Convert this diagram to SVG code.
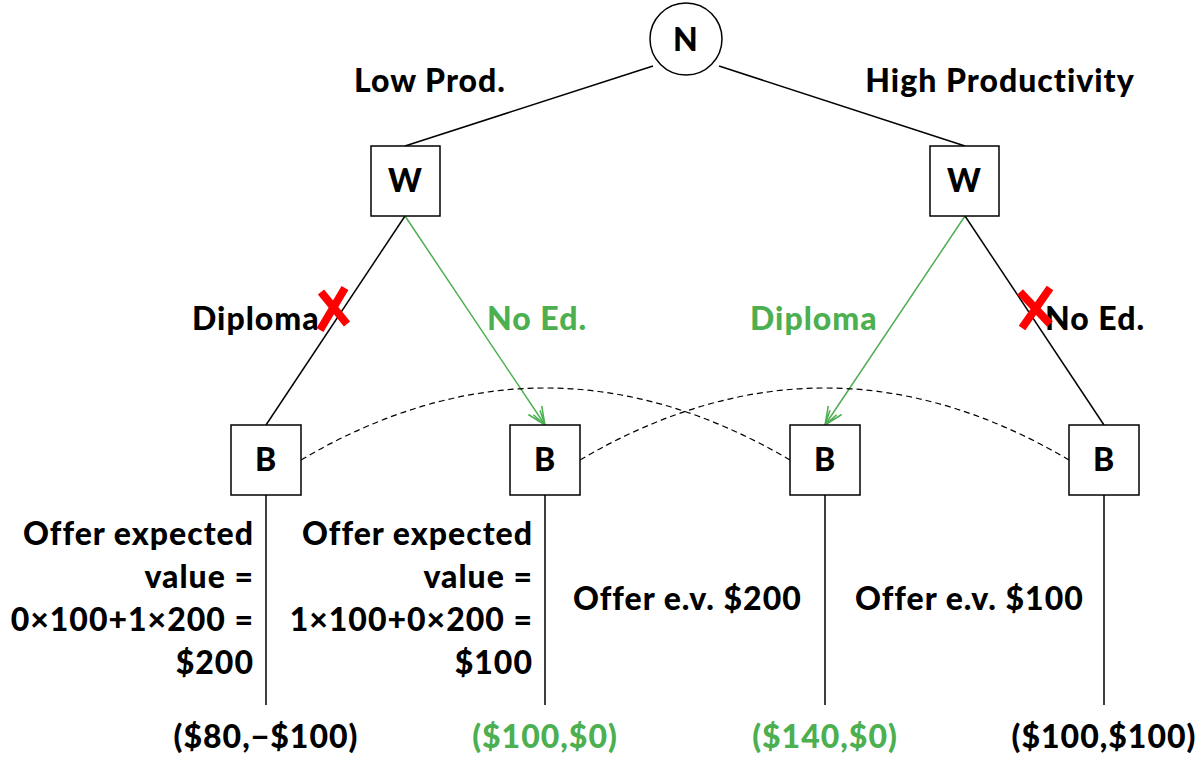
<svg xmlns="http://www.w3.org/2000/svg" width="1202" height="757" viewBox="0 0 1202 757">
<style>
text{font-family:Lato,"Open Sans","DejaVu Sans",sans-serif;font-weight:900;font-size:32px;letter-spacing:1px;fill:#000}
.g{fill:#4caf50}
.r{text-anchor:end}
.m{text-anchor:middle}
.node{fill:#fff;stroke:#000;stroke-width:1.5}
.edge{stroke:#000;stroke-width:1.5;fill:none}
.gedge{stroke:#4caf50;stroke-width:1.5;fill:none}
.dash{stroke:#000;stroke-width:1.2;fill:none;stroke-dasharray:6 4}
.x{stroke:#f00;stroke-width:8;stroke-linecap:butt;fill:none}
</style>
<defs>
<marker id="ga" viewBox="0 0 20 20" refX="18" refY="10" markerWidth="20" markerHeight="20" markerUnits="userSpaceOnUse" orient="auto">
<path d="M0,2 L18,10 L0,18 M3,6 L18,10 L3,14" fill="none" stroke="#4caf50" stroke-width="1.5"/>
</marker>
</defs>
<g id="connectors">
<line class="edge" x1="653" y1="66" x2="405" y2="146"/>
<line class="edge" x1="719" y1="66" x2="965" y2="146"/>
<line class="edge" x1="405" y1="216" x2="266" y2="425"/>
<line class="gedge" x1="405" y1="216" x2="545" y2="425" marker-end="url(#ga)"/>
<line class="gedge" x1="965" y1="216" x2="825" y2="425" marker-end="url(#ga)"/>
<line class="edge" x1="965" y1="216" x2="1104" y2="425"/>
<line class="edge" x1="266" y1="495" x2="266" y2="705"/>
<line class="edge" x1="545" y1="495" x2="545" y2="705"/>
<line class="edge" x1="825" y1="495" x2="825" y2="705"/>
<line class="edge" x1="1104" y1="495" x2="1104" y2="705"/>
<path class="dash" d="M301,460 Q545,316 790,460"/>
<path class="dash" d="M580,460 Q825,316 1069,460"/>
</g>
<g id="N"><circle class="node" cx="686" cy="39" r="36"/><text class="m" x="686" y="51">N</text></g>
<g id="W1"><rect class="node" x="371" y="146" width="69" height="70"/><text class="m" x="405.5" y="192">W</text></g>
<g id="W2"><rect class="node" x="930" y="146" width="69" height="70"/><text class="m" x="964.5" y="192">W</text></g>
<g id="B1"><rect class="node" x="231" y="425" width="70" height="70"/><text class="m" x="266" y="471">B</text></g>
<g id="B2"><rect class="node" x="510" y="425" width="70" height="70"/><text class="m" x="545" y="471">B</text></g>
<g id="B3"><rect class="node" x="790" y="425" width="70" height="70"/><text class="m" x="825" y="471">B</text></g>
<g id="B4"><rect class="node" x="1069" y="425" width="70" height="70"/><text class="m" x="1104" y="471">B</text></g>
<g id="labels">
<text class="m" x="430" y="92">Low Prod.</text>
<text class="m" x="1000" y="92">High Productivity</text>
<text x="192" y="330">Diploma</text>
<text class="g" x="487" y="330">No Ed.</text>
<text class="g" x="750" y="330">Diploma</text>
<text x="1045" y="330">No Ed.</text>
<path class="x" d="M345,288 L320,330 M321,292 L347,324"/>
<path class="x" d="M1050,288 L1022,328 M1020,292 L1050,324"/>
<text class="r" x="254" y="545">Offer expected</text>
<text class="r" x="254" y="588">value =</text>
<text class="r" x="254" y="631">0×100+1×200 =</text>
<text class="r" x="254" y="674">$200</text>
<text class="r" x="533" y="545">Offer expected</text>
<text class="r" x="533" y="588">value =</text>
<text class="r" x="533" y="631">1×100+0×200 =</text>
<text class="r" x="533" y="674">$100</text>
<text x="573" y="610">Offer e.v. $200</text>
<text x="855" y="610">Offer e.v. $100</text>
<text class="m" x="266" y="748">($80,−$100)</text>
<text class="m g" x="545" y="748">($100,$0)</text>
<text class="m g" x="825" y="748">($140,$0)</text>
<text class="m" x="1104" y="748">($100,$100)</text>
</g>
</svg>
